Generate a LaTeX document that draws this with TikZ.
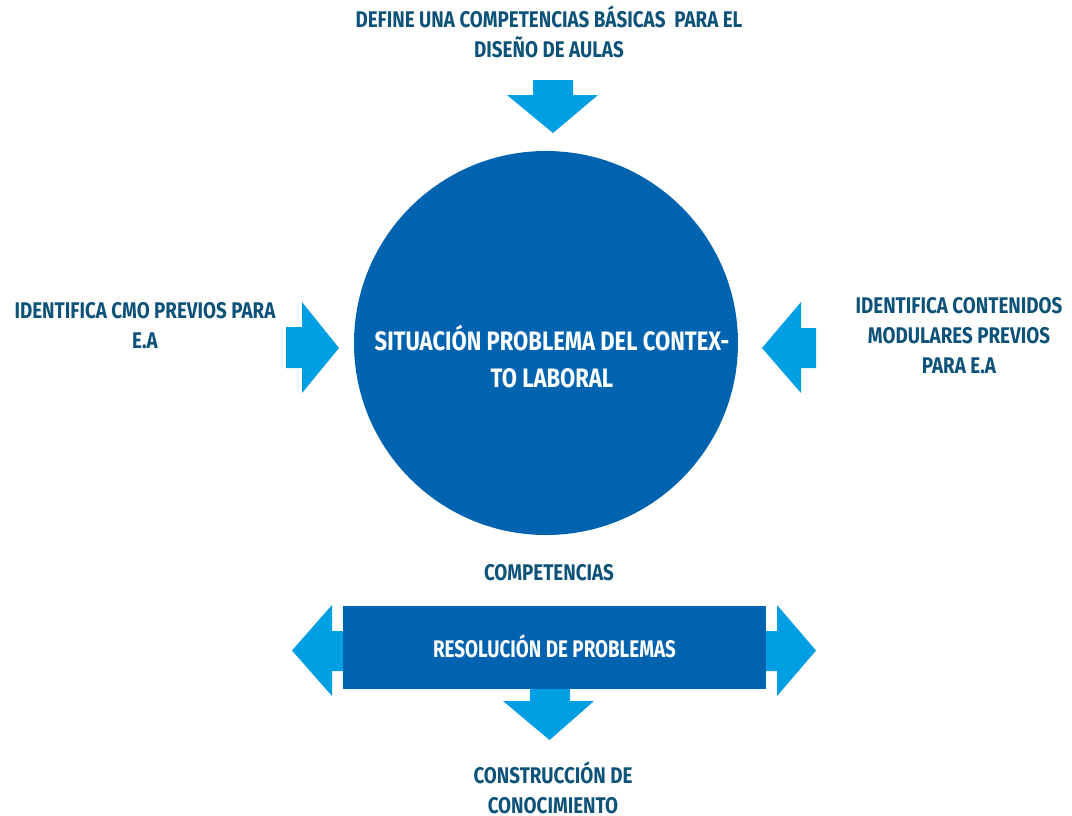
\documentclass[tikz,border=0pt]{standalone}
\usepackage{fontspec}
\newfontfamily\cond{Fira Sans}[FakeStretch=0.83]
\newfontfamily\condw{Fira Sans}[FakeStretch=0.826]
\newfontfamily\condr{Fira Sans}[FakeStretch=0.784]
\definecolor{darkblue}{HTML}{0063AF}
\definecolor{lightblue}{HTML}{009FE3}
\definecolor{txtblue}{HTML}{0D5278}
\begin{document}
\begin{tikzpicture}[x=0.75pt,y=-0.75pt,
  lbl/.style={text=txtblue,font=\cond\bfseries\fontsize{17}{22.5}\selectfont,align=center,inner sep=0pt},
  wlbl/.style={text=white,font=\condw\bfseries\fontsize{20}{27.75}\selectfont,align=center,inner sep=0pt},
  blockarrow/.style={fill=lightblue,draw=none}]
\useasboundingbox (0,0) rectangle (1072,815);
% top arrow
\fill[blockarrow] (533,80) -- (573,80) -- (573,95) -- (598,95) -- (553,133) -- (507,95) -- (533,95) -- cycle;
% left arrow
\fill[blockarrow] (286,327) -- (302,327) -- (302,302) -- (339,348) -- (302,393) -- (302,368) -- (286,368) -- cycle;
% right arrow
\fill[blockarrow] (816,328) -- (801,328) -- (801,302) -- (762,348) -- (801,393) -- (801,368) -- (816,368) -- cycle;
% bottom left / right arrows
\fill[blockarrow] (350,631) -- (332,631) -- (332,605) -- (292,650.5) -- (332,696) -- (332,671) -- (350,671) -- cycle;
\fill[blockarrow] (760,631) -- (777,631) -- (777,605) -- (816,650.5) -- (777,696) -- (777,671) -- (760,671) -- cycle;
% bottom arrow
\fill[blockarrow] (530,685) -- (570,685) -- (570,701) -- (594,701) -- (549.5,740) -- (503,701) -- (530,701) -- cycle;
% circle
\node[circle,fill=darkblue,minimum size=384*0.75pt,inner sep=0pt] (circ) at (546,343) {};
% rectangle
\node[fill=darkblue,minimum width=423*0.75pt,minimum height=83*0.75pt,inner sep=0pt] (rect) at (554.5,647.5) {};
% texts
\node[lbl] (top) at (549,32) {DEFINE UNA COMPETENCIAS BÁSICAS~~PARA EL\\DISEÑO DE AULAS};
\node[lbl] (left) at (145,326) {IDENTIFICA CMO PREVIOS PARA\\E.A};
\node[lbl] (right) at (959,336) {IDENTIFICA CONTENIDOS\\MODULARES PREVIOS\\PARA E.A};
\node[wlbl] (ctext) at (552,356.5) {SITUACIÓN PROBLEMA DEL CONTEX-\\TO LABORAL};
\node[lbl] (comp) at (549,573) {COMPETENCIAS};
\node[wlbl,font=\condr\bfseries\fontsize{18}{24}\selectfont] (res) at (554.5,646) {RESOLUCIÓN DE PROBLEMAS};
\node[lbl] (cons) at (553,788) {CONSTRUCCIÓN DE\\CONOCIMIENTO};
\end{tikzpicture}
\end{document}
